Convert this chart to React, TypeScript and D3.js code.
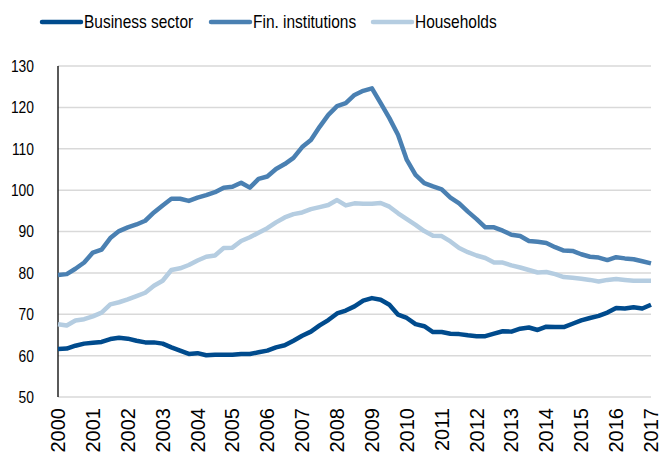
import * as d3 from "d3";

// quarterly observations, 2000Q1 .. 2017Q1
const START_YEAR = 2000;
const END_YEAR = 2017;

const business = [
	61.6, 61.7, 62.4, 62.9, 63.1, 63.3, 64.0, 64.3, 64.1, 63.6, 63.2, 63.2,
	62.9, 62.0, 61.2, 60.4, 60.6, 60.1, 60.2, 60.2, 60.2, 60.4, 60.4, 60.8,
	61.2, 62.0, 62.5, 63.6, 64.8, 65.8, 67.3, 68.6, 70.2, 70.9, 71.9, 73.3,
	73.9, 73.5, 72.3, 69.9, 69.1, 67.6, 67.1, 65.7, 65.7, 65.3, 65.2, 64.9,
	64.7, 64.7, 65.3, 65.9, 65.8, 66.5, 66.8, 66.2, 67.0, 66.9, 66.9, 67.7,
	68.5, 69.1, 69.6, 70.4, 71.5, 71.4, 71.7, 71.4, 72.3,
];

const finInstitutions = [
	79.5, 79.7, 81.0, 82.5, 84.9, 85.6, 88.4, 90.1, 91.0, 91.7, 92.6, 94.6,
	96.3, 97.9, 97.9, 97.4, 98.2, 98.8, 99.5, 100.6, 100.8, 101.8, 100.6, 102.7,
	103.3, 105.1, 106.3, 107.8, 110.4, 112.1, 115.3, 118.2, 120.3, 121.0, 123.0, 124.0,
	124.6, 121.0, 117.4, 113.3, 107.3, 103.7, 101.7, 100.9, 100.2, 98.2, 96.8, 94.8,
	93.0, 91.0, 91.0, 90.2, 89.2, 88.9, 87.7, 87.5, 87.2, 86.2, 85.4, 85.3,
	84.5, 83.9, 83.7, 83.1, 83.8, 83.5, 83.3, 82.8, 82.3,
];

const households = [
	67.6, 67.3, 68.5, 68.8, 69.5, 70.4, 72.4, 72.9, 73.6, 74.4, 75.2, 76.9,
	78.1, 80.7, 81.1, 81.9, 83.0, 83.9, 84.2, 86.0, 86.1, 87.7, 88.6, 89.7,
	90.8, 92.2, 93.4, 94.2, 94.6, 95.4, 95.9, 96.4, 97.6, 96.3, 96.8, 96.7,
	96.7, 96.9, 96.0, 94.4, 93.0, 91.6, 90.1, 89.0, 88.9, 87.6, 86.0, 85.0,
	84.2, 83.6, 82.5, 82.5, 81.8, 81.3, 80.7, 80.1, 80.2, 79.7, 79.0, 78.8,
	78.6, 78.3, 77.9, 78.3, 78.5, 78.3, 78.1, 78.1, 78.1,
];

const seriesNames = ["Business sector", "Fin. institutions", "Households"];
const colors = ["#004b8d", "#4a80b2", "#b5cde1"];
const yTicks = [50, 60, 70, 80, 90, 100, 110, 120, 130];
const xTicks = d3.range(START_YEAR, END_YEAR + 1);

const WIDTH = 659;
const HEIGHT = 452;
const LEFT = 58;
const RIGHT = 651;
const TOP = 66;
const BOTTOM = 397;

const FONT = "'Liberation Sans', Arial, sans-serif";

export default function App() {
	const x = d3.scaleLinear().domain([START_YEAR, END_YEAR]).range([LEFT, RIGHT]);
	const y = d3.scaleLinear().domain([50, 130]).range([BOTTOM, TOP]);

	const allSeries = [business, finInstitutions, households];

	const line = d3
		.line<number>()
		.x((_, i) => x(START_YEAR + i / 4))
		.y((d) => y(d));

	// legend sample start positions
	const legendX = [42, 211, 373];

	return (
		<div style={{ position: "absolute", left: 0, top: 0 }}>
			<svg width={WIDTH} height={HEIGHT} style={{ display: "block" }}>
				<rect width={WIDTH} height={HEIGHT} fill="#fff" />

				{/* gridlines */}
				{yTicks.map((t) => (
					<line
						key={t}
						x1={LEFT}
						x2={RIGHT}
						y1={y(t)}
						y2={y(t)}
						stroke="#d9d9d9"
						strokeWidth={1.5}
					/>
				))}

				{/* y axis */}
				<line x1={LEFT} x2={LEFT} y1={TOP} y2={BOTTOM} stroke="#000" strokeWidth={1.3} />
				{yTicks.map((t) => (
					<text
						key={t}
						transform={`translate(34, ${y(t)}) scale(0.84, 1)`}
						textAnchor="end"
						dominantBaseline="central"
						fontFamily={FONT}
						fontSize={16.5}
						fill="#000"
					>
						{t}
					</text>
				))}

				{/* x labels */}
				{xTicks.map((t) => (
					<text
						key={t}
						transform={`translate(${x(t)}, 408) rotate(-90)`}
						textAnchor="end"
						dominantBaseline="central"
						fontFamily={FONT}
						fontSize={20}
						fill="#000"
					>
						{t}
					</text>
				))}

				{/* series */}
				{allSeries.map((s, i) => (
					<path
						key={i}
						d={line(s) ?? undefined}
						fill="none"
						stroke={colors[i]}
						strokeWidth={4.5}
						strokeLinejoin="round"
					/>
				))}

				{/* legend */}
				{seriesNames.map((name, i) => (
					<g key={name}>
						<line
							x1={legendX[i]}
							x2={legendX[i] + 39}
							y1={22}
							y2={22}
							stroke={colors[i]}
							strokeWidth={4.5}
							strokeLinecap="round"
						/>
						<text
							transform={`translate(${legendX[i] + 42}, 22) scale(0.86, 1)`}
							dominantBaseline="central"
							fontFamily={FONT}
							fontSize={18}
							fill="#000"
						>
							{name}
						</text>
					</g>
				))}
			</svg>
		</div>
	);
}
